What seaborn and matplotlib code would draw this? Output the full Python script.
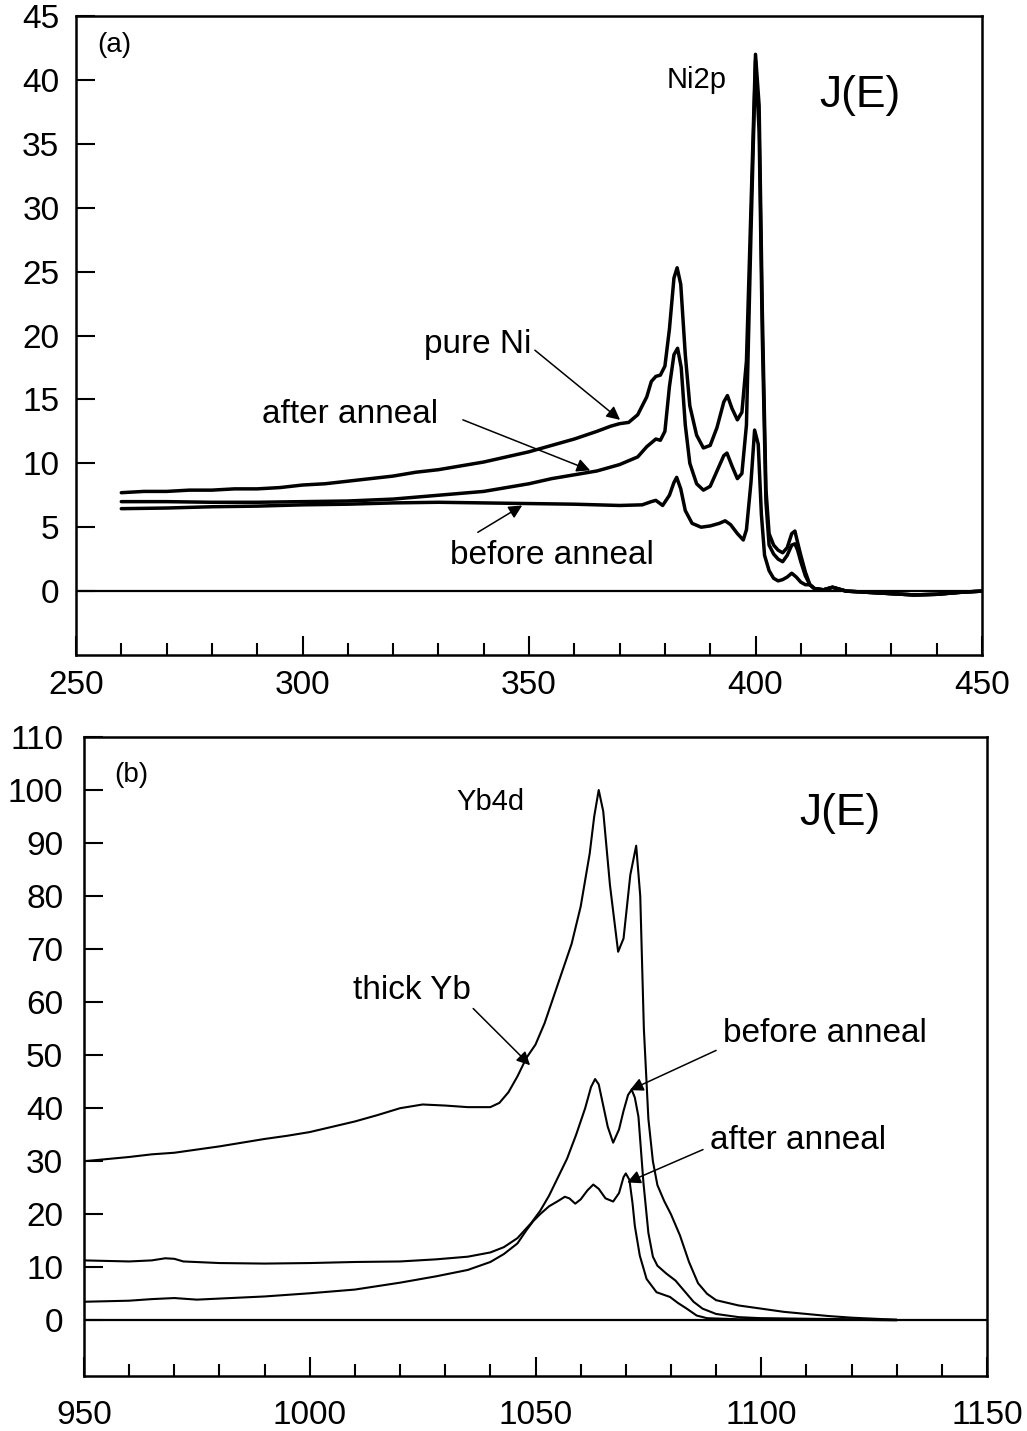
import numpy as np
import pandas as pd
import matplotlib
matplotlib.use("Agg")
import matplotlib.pyplot as plt
from matplotlib.ticker import MultipleLocator
import seaborn as sns

# ---------------- Panel (a): Ni2p ----------------
pure_ni_x = [260, 265, 270, 275, 280, 285, 290, 295, 300, 305, 310, 315, 320, 325, 330, 335, 340, 345,
             350, 355, 360, 365, 368, 370, 372, 374, 376, 377, 378, 379, 380, 381, 382, 382.7, 383.5,
             384.5, 385.5, 387, 388.5, 390, 391.5, 393, 393.8, 394.8, 396, 397, 398, 399, 400, 400.8,
             401.5, 402.3, 403, 404, 405, 406, 407, 408, 408.7, 409.3, 410, 411, 412]
pure_ni_y = [7.7, 7.8, 7.8, 7.9, 7.9, 8.0, 8.0, 8.1, 8.3, 8.4, 8.6, 8.8, 9.0, 9.3, 9.5, 9.8, 10.1, 10.5,
             10.9, 11.4, 11.9, 12.5, 12.9, 13.1, 13.2, 13.8, 15.2, 16.4, 16.8, 16.9, 17.6, 20.5, 24.5, 25.3, 24.0,
             18.5, 14.5, 12.2, 11.2, 11.4, 12.8, 14.8, 15.3, 14.3, 13.4, 14.0, 18.0, 30.0, 42.0, 38.0,
             22.0, 8.0, 4.5, 3.6, 3.2, 3.0, 3.4, 4.5, 4.7, 3.8, 2.8, 1.5, 0.5]

after_a_x = [260, 270, 280, 290, 300, 310, 320, 330, 340, 345, 350, 355, 360, 365, 370, 374, 376, 378, 379,
             380, 381, 382, 382.8, 383.6, 384.5, 385.5, 387, 388.5, 390, 391.5, 393, 393.7, 394.8, 396, 397,
             398, 399, 400, 400.8, 401.5, 402.3, 403, 404, 405, 406, 407, 408, 408.7, 409.3, 410, 411, 412]
after_a_y = [7.0, 7.0, 6.95, 6.95, 7.0, 7.05, 7.2, 7.5, 7.8, 8.1, 8.4, 8.8, 9.1, 9.4, 9.9, 10.5, 11.3, 11.9, 11.8,
             12.5, 16.0, 18.5, 19.0, 17.5, 13.0, 10.0, 8.4, 7.9, 8.2, 9.4, 10.6, 10.8, 9.8, 8.8, 9.2,
             13.0, 28.0, 41.5, 36.0, 20.0, 7.0, 3.6, 2.9, 2.5, 2.3, 2.8, 3.6, 3.7, 3.2, 2.3, 1.2, 0.5]

before_a_x = [260, 270, 280, 290, 300, 310, 320, 330, 340, 350, 360, 370, 375, 377, 378, 379.5, 381, 382,
              382.6, 383.5, 384.5, 386, 388, 390, 392, 393.3, 394.5, 396, 397.3, 398, 399, 399.8, 400.6,
              401.3, 402, 403, 404, 405, 406, 407, 408, 409, 410, 411, 412]
before_a_y = [6.45, 6.5, 6.6, 6.65, 6.75, 6.8, 6.9, 6.95, 6.9, 6.85, 6.8, 6.7, 6.75, 7.0, 7.1, 6.7, 7.5, 8.5,
              8.9, 8.0, 6.3, 5.3, 5.0, 5.1, 5.3, 5.5, 5.2, 4.5, 4.0, 4.8, 8.5, 12.6, 11.5,
              6.0, 2.8, 1.6, 1.0, 0.8, 0.9, 1.1, 1.4, 1.1, 0.7, 0.5, 0.5]

tail_a_x = [413, 415, 417, 420, 425, 430, 435, 440, 445, 450]
tail_a_y = [0.2, 0.1, 0.3, 0.0, -0.1, -0.2, -0.3, -0.25, -0.1, 0.0]

# ---------------- Panel (b): Yb4d ----------------
thick_yb_x = [950, 955, 960, 965, 970, 975, 980, 985, 990, 995, 1000, 1005, 1010, 1015, 1020, 1025, 1030,
              1035, 1040, 1042, 1044, 1046, 1048, 1050, 1052, 1054, 1056, 1058, 1060, 1062, 1063, 1064,
              1065, 1066.5, 1068.3, 1069.5, 1071, 1072.3, 1073.2, 1074, 1075, 1076, 1077, 1078.5, 1080,
              1082, 1084, 1086, 1088, 1090, 1095, 1100, 1105, 1110, 1115, 1120, 1125, 1130]
thick_yb_y = [30.0, 30.4, 30.8, 31.3, 31.6, 32.2, 32.8, 33.5, 34.2, 34.8, 35.5, 36.5, 37.5, 38.7, 40.0, 40.7, 40.5,
              40.2, 40.2, 41.0, 43.0, 46.0, 49.5, 52.0, 56.0, 61.0, 66.0, 71.0, 78.0, 88.0, 95.0, 100.0,
              96.0, 82.0, 69.5, 72.0, 84.0, 89.5, 80.0, 55.0, 38.0, 30.0, 25.5, 22.5, 20.0,
              16.0, 11.0, 7.0, 5.0, 3.8, 2.8, 2.2, 1.6, 1.2, 0.8, 0.5, 0.3, 0.1]

before_b_x = [950, 955, 960, 965, 968, 970, 972, 980, 990, 1000, 1010, 1020, 1028, 1035, 1040, 1043, 1046,
              1049, 1051, 1053, 1055, 1057, 1059, 1061, 1062.3, 1063.2, 1064, 1065, 1066, 1067.2, 1068.5,
              1069.5, 1070.5, 1071.3, 1072, 1072.8, 1073.9, 1075, 1076, 1077, 1079, 1081, 1083, 1085, 1087,
              1090, 1095, 1100, 1110, 1120, 1130]
before_b_y = [11.3, 11.2, 11.1, 11.3, 11.7, 11.6, 11.1, 10.8, 10.7, 10.8, 11.0, 11.1, 11.5, 12.0, 12.8, 13.8, 15.5,
              18.3, 20.6, 23.5, 27.0, 30.5, 35.0, 40.0, 44.0, 45.5, 44.5, 40.5, 36.5, 33.5, 36.0,
              39.5, 42.5, 43.5, 42.0, 38.4, 26.0, 16.5, 12.0, 10.3, 8.8, 7.5, 5.5, 3.5, 2.2,
              1.2, 0.6, 0.4, 0.3, 0.2, 0.1]

after_b_x = [950, 955, 960, 965, 970, 975, 980, 990, 1000, 1010, 1020, 1028, 1035, 1040, 1043, 1046, 1048,
             1049.5, 1051, 1053, 1055, 1056.5, 1057.5, 1058.8, 1060, 1061.5, 1062.8, 1064, 1065.5, 1067.2,
             1068.5, 1069.5, 1070, 1070.8, 1071.5, 1072, 1073.1, 1074.6, 1076.8, 1079.8, 1081.5, 1083.5,
             1085.7, 1088, 1095, 1100, 1110, 1120, 1130]
after_b_y = [3.5, 3.6, 3.7, 4.0, 4.2, 3.9, 4.1, 4.5, 5.1, 5.8, 7.1, 8.3, 9.5, 11.0, 12.5, 14.5, 17.0,
             18.7, 20.0, 21.5, 22.5, 23.3, 23.0, 22.0, 22.8, 24.5, 25.6, 24.8, 23.0, 22.4,
             24.0, 27.0, 27.7, 26.5, 22.0, 17.8, 12.2, 7.8, 5.3, 4.4, 3.3, 2.2,
             0.9, 0.4, 0.2, 0.3, 0.2, 0.1, 0.0]

a_yticks = [0, 5, 10, 15, 20, 25, 30, 35, 40, 45]
b_yticks = [0, 10, 20, 30, 40, 50, 60, 70, 80, 90, 100, 110]
a_xticks = [250, 300, 350, 400, 450]
b_xticks = [950, 1000, 1050, 1100, 1150]

# ---------------- Build tables ----------------
def frame(series):
    rows = []
    for name, xs, ys in series:
        for x, y in zip(xs, ys):
            rows.append((name, x, y))
    return pd.DataFrame(rows, columns=["series", "E", "J"])

df_a = frame([
    ("pure Ni", pure_ni_x + tail_a_x, pure_ni_y + tail_a_y),
    ("after anneal", after_a_x + tail_a_x, after_a_y + tail_a_y),
    ("before anneal", before_a_x + tail_a_x, before_a_y + tail_a_y),
])
df_b = frame([
    ("thick Yb", thick_yb_x, thick_yb_y),
    ("before anneal", before_b_x, before_b_y),
    ("after anneal", after_b_x, after_b_y),
])

sns.set_theme(style="white")
plt.rcParams["font.family"] = ["Liberation Sans", "DejaVu Sans"]
plt.rcParams["axes.edgecolor"] = "black"
plt.rcParams["axes.linewidth"] = 1.8
plt.rcParams["text.color"] = "black"
plt.rcParams["xtick.color"] = "black"
plt.rcParams["ytick.color"] = "black"
plt.rcParams["xtick.labelcolor"] = "black"
plt.rcParams["ytick.labelcolor"] = "black"

fig = plt.figure(figsize=(10.27, 14.31), dpi=100)
ax1 = fig.add_axes([76 / 1027, 1 - 655 / 1431, 906 / 1027, 639 / 1431])
ax2 = fig.add_axes([84 / 1027, 1 - 1376 / 1431, 903 / 1027, 639 / 1431])

black3 = {"pure Ni": "black", "after anneal": "black", "before anneal": "black", "thick Yb": "black"}

sns.lineplot(data=df_a, x="E", y="J", hue="series", palette=black3, sort=False,
             estimator=None, lw=2.5, legend=False, ax=ax1)
sns.lineplot(data=df_b, x="E", y="J", hue="series", palette=black3, sort=False,
             estimator=None, lw=1.5, legend=False, ax=ax2)

TICK_FS = 24
LABEL_FS = 24

for ax in (ax1, ax2):
    ax.axhline(0, color="black", lw=1.6, zorder=1)
    ax.set_xlabel("")
    ax.set_ylabel("")
    for s in ax.spines.values():
        s.set_color("black")
        s.set_linewidth(1.8)
    ax.tick_params(axis="x", which="major", direction="in", length=14, width=1.5,
                   labelsize=TICK_FS, bottom=True, top=False, colors="black")
    ax.tick_params(axis="x", which="minor", direction="in", length=9, width=1.5,
                   bottom=True, top=False, colors="black")
    ax.tick_params(axis="y", which="major", direction="in", length=14, width=1.5,
                   labelsize=TICK_FS, left=True, right=False, colors="black")
    ax.xaxis.set_minor_locator(MultipleLocator(10))

# Panel (a)
ax1.set_xlim(250, 450)
ax1.set_ylim(-5, 45)
ax1.set_xticks(a_xticks)
ax1.set_yticks(a_yticks)
ax1.tick_params(axis="x", pad=11)
ax1.tick_params(axis="y", pad=12)
ax1.text(0.023, 0.955, "(a)", transform=ax1.transAxes, fontsize=20, ha="left", va="center")
ax1.text(387.1, 40.0, "Ni2p", fontsize=21, ha="center", va="center")
ax1.text(423.1, 38.8, "J(E)", fontsize=32, ha="center", va="center")
arrow = dict(arrowstyle="-|>", color="black", lw=1.1, mutation_scale=20, shrinkA=0, shrinkB=0)
ax1.text(338.7, 19.3, "pure Ni", fontsize=LABEL_FS, ha="center", va="center")
ax1.annotate("", xy=(370.1, 13.4), xytext=(351.3, 18.85), arrowprops=arrow)
ax1.text(310.5, 13.8, "after anneal", fontsize=LABEL_FS, ha="center", va="center")
ax1.annotate("", xy=(363.5, 9.45), xytext=(335.4, 13.4), arrowprops=arrow)
ax1.text(355.1, 2.8, "before anneal", fontsize=LABEL_FS, ha="center", va="center")
ax1.annotate("", xy=(348.5, 6.7), xytext=(338.7, 4.6), arrowprops=arrow)

# Panel (b)
ax2.set_xlim(950, 1150)
ax2.set_ylim(-10.5, 110)
ax2.set_xticks(b_xticks)
ax2.set_yticks(b_yticks)
ax2.tick_params(axis="x", pad=17)
ax2.tick_params(axis="y", pad=15)
ax2.text(0.033, 0.94, "(b)", transform=ax2.transAxes, fontsize=20, ha="left", va="center")
ax2.text(1039.9, 97.8, "Yb4d", fontsize=21, ha="center", va="center")
ax2.text(1117.4, 95.6, "J(E)", fontsize=32, ha="center", va="center")
ax2.text(1022.6, 62.2, "thick Yb", fontsize=LABEL_FS, ha="center", va="center")
ax2.annotate("", xy=(1048.8, 48.1), xytext=(1036.2, 58.8), arrowprops=arrow)
ax2.text(1114.1, 54.1, "before anneal", fontsize=LABEL_FS, ha="center", va="center")
ax2.annotate("", xy=(1070.9, 43.4), xytext=(1090.0, 50.9), arrowprops=arrow)
ax2.text(1108.1, 34.0, "after anneal", fontsize=LABEL_FS, ha="center", va="center")
ax2.annotate("", xy=(1070.3, 26.0), xytext=(1087.1, 32.2), arrowprops=arrow)

fig.savefig("out.png", dpi=100, facecolor="white")
